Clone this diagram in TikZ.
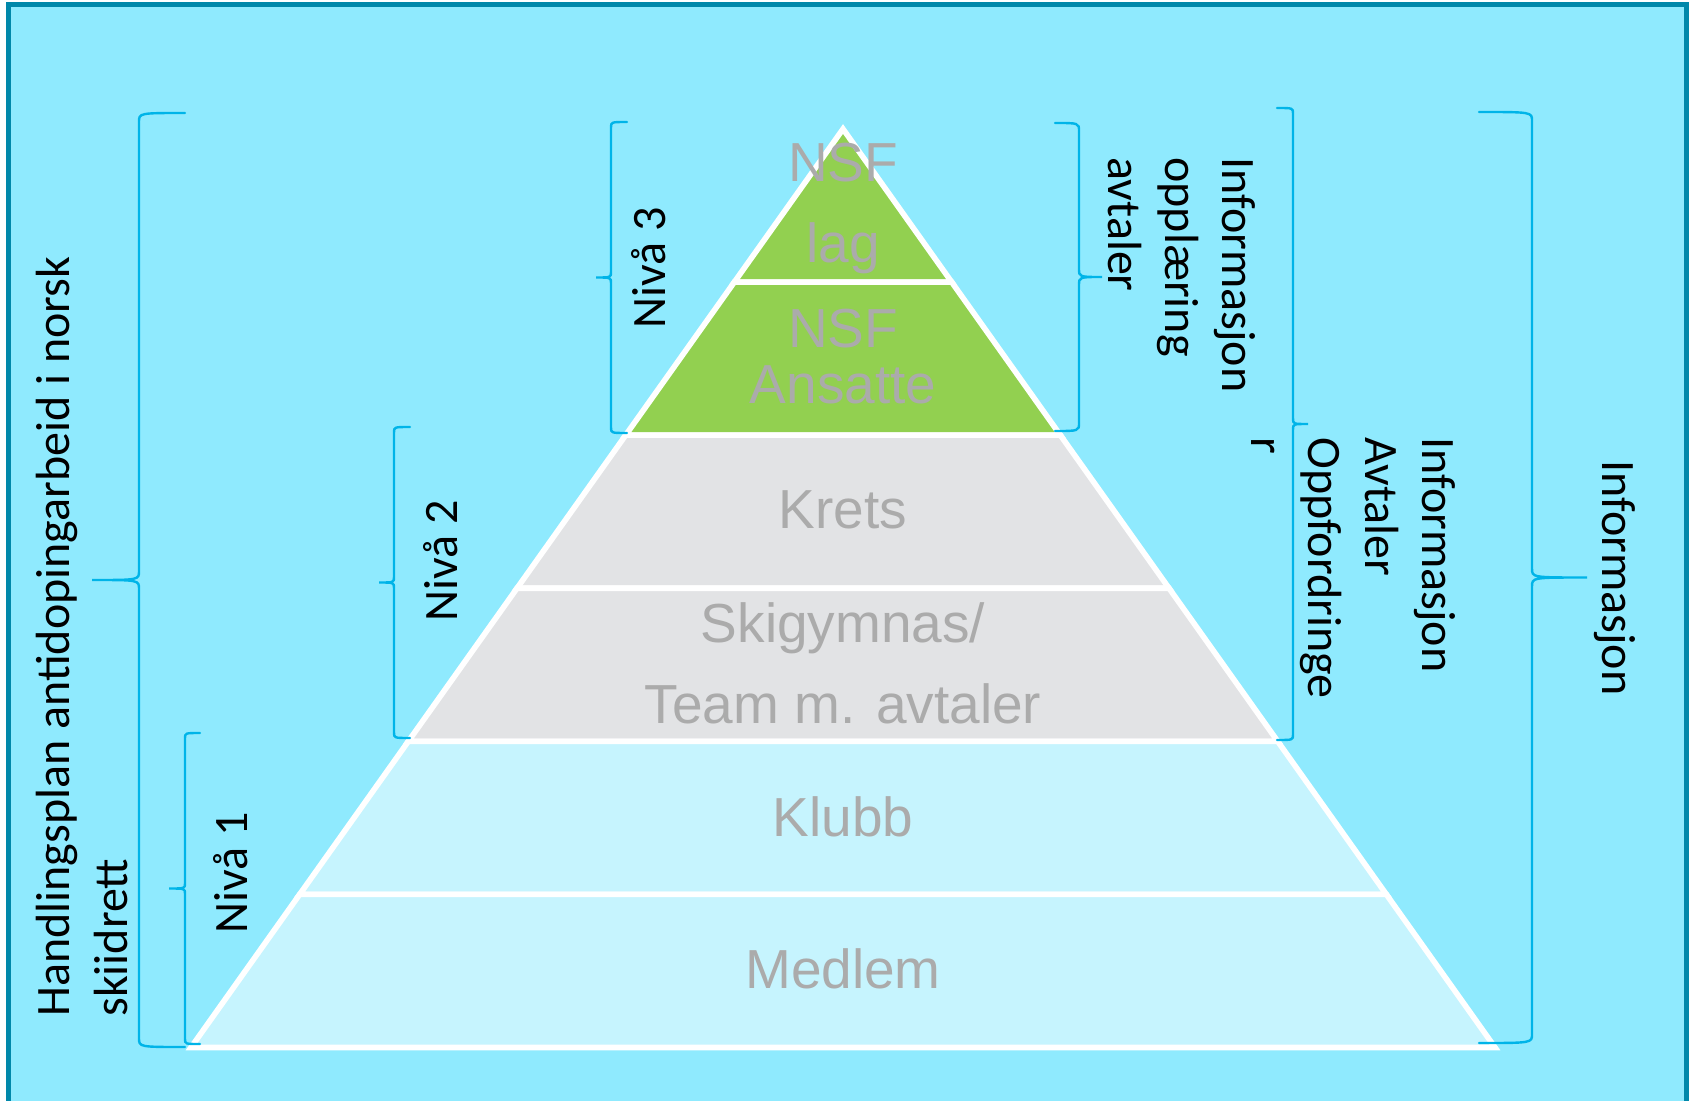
\documentclass[tikz,border=0pt]{standalone}
\usepackage{fontspec}
\setmainfont{Carlito}
\newfontfamily\arialfont{Liberation Sans}
\usetikzlibrary{calc}

\definecolor{framecol}{HTML}{0088AA}
\definecolor{bgcyan}{HTML}{8FEAFE}
\definecolor{bracecol}{HTML}{00B4E8}
\definecolor{nsfgreen}{HTML}{92D050}
\definecolor{kretsgrey}{HTML}{E2E3E5}
\definecolor{klubbcyan}{HTML}{C6F4FE}
\definecolor{labelgrey}{HTML}{ABABAB}

\tikzset{
  band/.style={draw=white, line width=2.8pt, line join=miter},
  lvltext/.style={font=\arialfont\fontsize{27.5}{33}\selectfont, text=labelgrey, anchor=base, inner sep=0pt},
  sidetext/.style={font=\fontsize{24}{29}\selectfont, text=black, inner sep=0pt},
  bracket/.style={draw=bracecol, line width=1.2pt, line cap=round},
}

% #1 line x, #2 end x, #3 tip x, #4 top y, #5 bottom y
\newcommand{\sidebrace}[5]{%
  \pgfmathsetmacro{\ymid}{(#4+#5)/2}%
  \pgfmathsetmacro{\bcurl}{min(9,0.35*abs(#2-#1))}%
  \draw[bracket] (#2,#4) .. controls (#1,#4) .. (#1,#4+\bcurl)
    -- (#1,\ymid-\bcurl) .. controls (#1,\ymid) .. (#3,\ymid)
    .. controls (#1,\ymid) .. (#1,\ymid+\bcurl)
    -- (#1,#5-\bcurl) .. controls (#1,#5) .. (#2,#5);%
}

\begin{document}
\begin{tikzpicture}[x=0.5pt,y=-0.5pt]
        \useasboundingbox (0,0) rectangle (1689,1101);
        \fill[white] (0,0) rectangle (1689,1101);
        \begin{scope}
            \clip (0,0) rectangle (1689,1101);
            \filldraw[fill=bgcyan, draw=framecol, line width=2.5pt] (8.5,4.5) rectangle (1686.5,1130);
        \end{scope}

        % pyramid corners
        \coordinate (L0) at (843,129);
        \foreach \k in {1,...,6}{
            \pgfmathsetmacro{\yk}{129+153.08*\k}
            \pgfmathsetmacro{\hw}{108.67*\k}
            \coordinate (L\k) at (843-\hw,\yk);
            \coordinate (R\k) at (843+\hw,\yk);
        }

        \filldraw[band, fill=nsfgreen] (L0) -- (R1) -- (L1) -- cycle;
        \filldraw[band, fill=nsfgreen] (L1) -- (R1) -- (R2) -- (L2) -- cycle;
        \filldraw[band, fill=kretsgrey] (L2) -- (R2) -- (R3) -- (L3) -- cycle;
        \filldraw[band, fill=kretsgrey] (L3) -- (R3) -- (R4) -- (L4) -- cycle;
        \filldraw[band, fill=klubbcyan] (L4) -- (R4) -- (R5) -- (L5) -- cycle;
        \filldraw[band, fill=klubbcyan] (L5) -- (R5) -- (R6) -- (L6) -- cycle;

        \node[lvltext] (nsftop) at (843,182) {NSF};
        \node[lvltext] (lag) at (843,263) {lag};
        \node[lvltext] (nsfmid) at (843,347) {NSF};
        \node[lvltext] (ansatte) at (843,403) {Ansatte};
        \node[lvltext] (krets) at (843,528) {Krets};
        \node[lvltext] (skigym) at (843,642) {Skigymnas/};
        \node[lvltext] (team) at (843,723) {Team m. avtaler};
        \node[lvltext] (klubb) at (843,836) {Klubb};
        \node[lvltext] (medlem) at (843,988) {Medlem};

        % braces
        \sidebrace{139}{185}{92}{113}{1047}
        \sidebrace{185}{200}{169}{733}{1044}
        \sidebrace{394}{410}{379}{427}{738}
        \sidebrace{611}{627}{596}{122}{433}
        \sidebrace{1079}{1055}{1102}{123}{431}
        \sidebrace{1293}{1277}{1308}{108}{740}
        \sidebrace{1532}{1479}{1587}{112}{1043}

        \node[sidetext, rotate=90, anchor=base west] (plan1) at (69,1017) {Handlingsplan antidopingarbeid i norsk};
        \node[sidetext, rotate=90, anchor=base west] (plan2) at (127,1017) {skiidrett};
        \node[sidetext, rotate=90, anchor=base] (niva1) at (247,873) {Nivå 1};
        \node[sidetext, rotate=90, anchor=base] (niva2) at (457,561) {Nivå 2};
        \node[sidetext, rotate=90, anchor=base] (niva3) at (665,268) {Nivå 3};

        \node[sidetext, rotate=-90, anchor=base west] (infoa1) at (1222,157) {Informasjon};
        \node[sidetext, rotate=-90, anchor=base west] (infoa2) at (1165,157) {opplæring};
        \node[sidetext, rotate=-90, anchor=base west] (infoa3) at (1108,157) {avtaler};

        \node[sidetext, rotate=-90, anchor=base west] (infob1) at (1422,437) {Informasjon};
        \node[sidetext, rotate=-90, anchor=base west] (infob2) at (1365,437) {Avtaler};
        \node[sidetext, rotate=-90, anchor=base west] (infob3) at (1308,437) {Oppfordringe};
        \node[sidetext, rotate=-90, anchor=base west] (infob4) at (1251,437) {r};

        \node[sidetext, rotate=-90, anchor=base] (infoc) at (1602,578) {Informasjon};
\end{tikzpicture}
\end{document}
